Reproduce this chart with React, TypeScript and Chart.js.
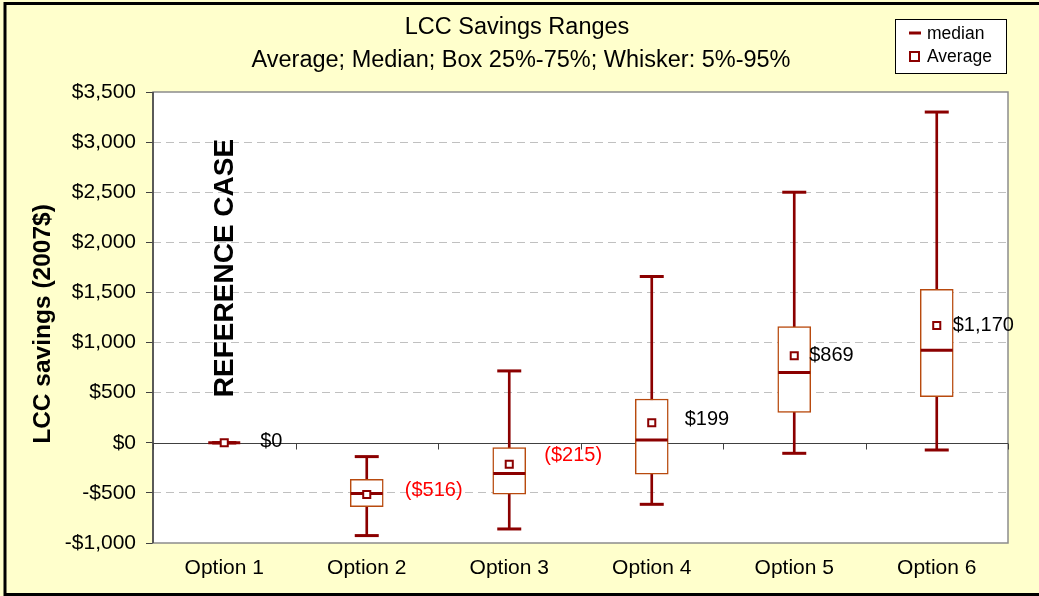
import React, { useEffect, useRef } from 'react';
import { Chart, registerables } from 'chart.js';

Chart.register(...registerables);

// ---- data ----
const CATEGORIES = ['Option 1', 'Option 2', 'Option 3', 'Option 4', 'Option 5', 'Option 6'];
const P5 = [0, -926, -860, -614, -105, -72];
const Q1 = [0, -637, -514, -314, 304, 461];
const MEDIAN = [0, -507, -307, 28, 700, 923];
const Q3 = [0, -364, -48, 437, 1160, 1532];
const P95 = [0, -138, 717, 1659, 2500, 3300];
const AVERAGE = [0, -516, -215, 199, 869, 1170];
const AVG_LABELS = ['$0', '($516)', '($215)', '$199', '$869', '$1,170'];
const Y_MIN = -1000;
const Y_MAX = 3500;
const Y_STEP = 500;
const TITLE_LINES = ['LCC Savings Ranges', 'Average; Median; Box 25%-75%; Whisker: 5%-95%'];
const Y_TITLE = 'LCC savings (2007$)';
const NOTE_TEXT = 'REFERENCE CASE';
const LEGEND_LABELS = ['median', 'Average'];

// ---- styles / positions ----
const FONT = "'Liberation Sans', Arial, Helvetica, sans-serif";
const DARK_RED = '#8B0000';
const BOX_COLOR = '#B84A0E';
const BG = '#FFFFCC';
const LABEL_DX = [36, 38, 35, 33, 15, 16];
const LABEL_DY = [-1, -4, -9, -3, 0, 0];

const fmtMoney = (v: number) => {
  const s = '$' + Math.abs(v).toLocaleString('en-US');
  return v < 0 ? '-' + s : s;
};

const decorPlugin = {
  id: 'decor',
  beforeDraw(chart: any) {
    const { ctx, chartArea: a, width, height } = chart;
    ctx.save();
    ctx.fillStyle = BG;
    ctx.fillRect(0, 0, width, height);
    ctx.fillStyle = '#FFFFFF';
    ctx.fillRect(a.left, a.top, a.right - a.left, a.bottom - a.top);
    ctx.restore();
  },
  beforeDatasetsDraw(chart: any) {
    const { ctx, chartArea: a, scales } = chart;
    const xs = scales.x;
    const ys = scales.y;
    ctx.save();
    // plot frame
    ctx.strokeStyle = '#8C8C8C';
    ctx.lineWidth = 1.5;
    ctx.strokeRect(a.left, a.top, a.right - a.left, a.bottom - a.top);
    // left axis line
    ctx.strokeStyle = '#404040';
    ctx.lineWidth = 1.5;
    ctx.beginPath();
    ctx.moveTo(a.left, a.top);
    ctx.lineTo(a.left, a.bottom);
    ctx.stroke();
    // zero line
    const y0 = Math.round(ys.getPixelForValue(0)) + 0.5;
    ctx.lineWidth = 1;
    ctx.strokeStyle = '#404040';
    ctx.beginPath();
    ctx.moveTo(a.left, y0);
    ctx.lineTo(a.right, y0);
    ctx.stroke();
    // category boundary tick marks on the zero line
    const n = CATEGORIES.length;
    ctx.beginPath();
    for (let i = 0; i <= n; i++) {
      let x;
      if (i === 0) x = a.left;
      else if (i === n) x = a.right;
      else x = (xs.getPixelForValue(i - 1) + xs.getPixelForValue(i)) / 2;
      x = Math.round(x) + 0.5;
      ctx.moveTo(x, y0);
      ctx.lineTo(x, y0 + 6);
    }
    ctx.stroke();
    ctx.restore();
  },
  afterDraw(chart: any) {
    const { ctx, scales, width, height } = chart;
    const xs = scales.x;
    const ys = scales.y;
    ctx.save();
    // titles
    ctx.fillStyle = '#000';
    ctx.textAlign = 'center';
    ctx.textBaseline = 'middle';
    ctx.font = `23.5px ${FONT}`;
    ctx.fillText(TITLE_LINES[0], 517, 28);
    ctx.fillText(TITLE_LINES[1], 521, 61);

    // y-axis title
    ctx.save();
    ctx.translate(43, 324);
    ctx.rotate(-Math.PI / 2);
    ctx.font = `bold 24.5px ${FONT}`;
    ctx.fillText(Y_TITLE, 0, 0);
    ctx.restore();

    // reference case note
    ctx.save();
    ctx.translate(xs.getPixelForValue(0) + 1, 268);
    ctx.rotate(-Math.PI / 2);
    ctx.font = `bold 28px ${FONT}`;
    ctx.fillText(NOTE_TEXT, 0, 0);
    ctx.restore();

    // average labels
    ctx.font = `20px ${FONT}`;
    ctx.textAlign = 'left';
    ctx.textBaseline = 'middle';
    AVERAGE.forEach((v, i) => {
      const x = xs.getPixelForValue(i) + LABEL_DX[i];
      const y = ys.getPixelForValue(v) + LABEL_DY[i];
      ctx.fillStyle = v < 0 ? '#FF0000' : '#000000';
      ctx.fillText(AVG_LABELS[i], x, y);
    });

    // legend
    ctx.fillStyle = '#FFFFFF';
    ctx.fillRect(895, 19, 111, 54);
    ctx.strokeStyle = '#000';
    ctx.lineWidth = 1;
    ctx.strokeRect(895.5, 19.5, 111, 54);
    ctx.strokeStyle = DARK_RED;
    ctx.lineWidth = 3;
    ctx.beginPath();
    ctx.moveTo(909, 33);
    ctx.lineTo(921, 33);
    ctx.stroke();
    ctx.fillStyle = '#FFFFFF';
    ctx.fillRect(910, 52, 9, 9);
    ctx.lineWidth = 2;
    ctx.strokeRect(910, 52, 9, 9);
    ctx.fillStyle = '#000';
    ctx.font = `17.5px ${FONT}`;
    ctx.fillText(LEGEND_LABELS[0], 927, 34);
    ctx.fillText(LEGEND_LABELS[1], 927, 57);

    // outer border
    ctx.strokeStyle = '#000';
    ctx.lineWidth = 3;
    ctx.strokeRect(5, 3.5, width + 10, height - 5);
    ctx.restore();
  },
};

export default function App() {
  const ref = useRef<HTMLCanvasElement | null>(null);
  useEffect(() => {
    document.body.style.margin = '0';
    const canvas = ref.current;
    if (!canvas) return;
    const chart = new Chart(canvas, {
      type: 'bar',
      data: {
        labels: CATEGORIES,
        datasets: [
          {
            type: 'bar',
            label: 'whisker',
            data: CATEGORIES.map((_, i) => [P5[i], P95[i]]) as any,
            backgroundColor: DARK_RED,
            borderWidth: 0,
            barThickness: 2,
            grouped: false,
            order: 6,
          } as any,
          {
            type: 'bar',
            label: 'box',
            data: CATEGORIES.map((_, i) => [Q1[i], Q3[i]]) as any,
            backgroundColor: '#FFFFFF',
            borderColor: BOX_COLOR,
            borderWidth: 1.5,
            borderSkipped: false,
            barThickness: 33,
            grouped: false,
            order: 5,
          } as any,
          {
            type: 'line',
            label: 'median',
            data: MEDIAN,
            showLine: false,
            pointStyle: 'line',
            pointRadius: 16,
            pointBorderWidth: 3,
            pointBorderColor: DARK_RED,
            order: 4,
          } as any,
          {
            type: 'line',
            label: 'p95',
            data: P95,
            showLine: false,
            pointStyle: 'line',
            pointRadius: 12,
            pointBorderWidth: 3,
            pointBorderColor: DARK_RED,
            order: 3,
          } as any,
          {
            type: 'line',
            label: 'p5',
            data: P5,
            showLine: false,
            pointStyle: 'line',
            pointRadius: 12,
            pointBorderWidth: 3,
            pointBorderColor: DARK_RED,
            order: 2,
          } as any,
          {
            type: 'line',
            label: 'Average',
            data: AVERAGE,
            showLine: false,
            pointStyle: 'rect',
            pointRadius: 5,
            pointBorderWidth: 2,
            pointBorderColor: DARK_RED,
            pointBackgroundColor: '#FFFFFF',
            order: 1,
          } as any,
        ],
      },
      options: {
        responsive: false,
        animation: false,
        events: [],
        layout: { padding: { left: 0, right: 31, top: 92, bottom: 0 } },
        plugins: {
          legend: { display: false },
          title: { display: false },
          tooltip: { enabled: false },
        },
        scales: {
          x: {
            type: 'category',
            grid: { display: false, drawTicks: false },
            border: { display: false },
            ticks: {
              color: '#000',
              font: { family: FONT, size: 21 },
              padding: 13,
              maxRotation: 0,
            },
            afterFit: (scale: any) => {
              scale.height = 53;
            },
          },
          y: {
            type: 'linear',
            min: Y_MIN,
            max: Y_MAX,
            grid: {
              color: (c: any) => {
                const v = c.tick ? c.tick.value : null;
                return v === 0 || v === Y_MIN || v === Y_MAX ? 'rgba(0,0,0,0)' : '#C0C0C0';
              },
              lineWidth: 1,
              drawTicks: true,
              tickLength: 7,
              tickColor: '#404040',
              tickWidth: 1,
            },
            border: { display: false, dash: [8, 5] },
            ticks: {
              stepSize: Y_STEP,
              color: '#000',
              font: { family: FONT, size: 21 },
              padding: 10,
              callback: (v: any) => fmtMoney(Number(v)),
            },
            afterFit: (scale: any) => {
              scale.width = 153;
            },
          },
        },
      } as any,
      plugins: [decorPlugin],
    });
    return () => chart.destroy();
  }, []);
  return (
    <div style={{ width: 1039, height: 596 }}>
      <canvas ref={ref} width={1039} height={596} style={{ display: 'block' }} />
    </div>
  );
}
